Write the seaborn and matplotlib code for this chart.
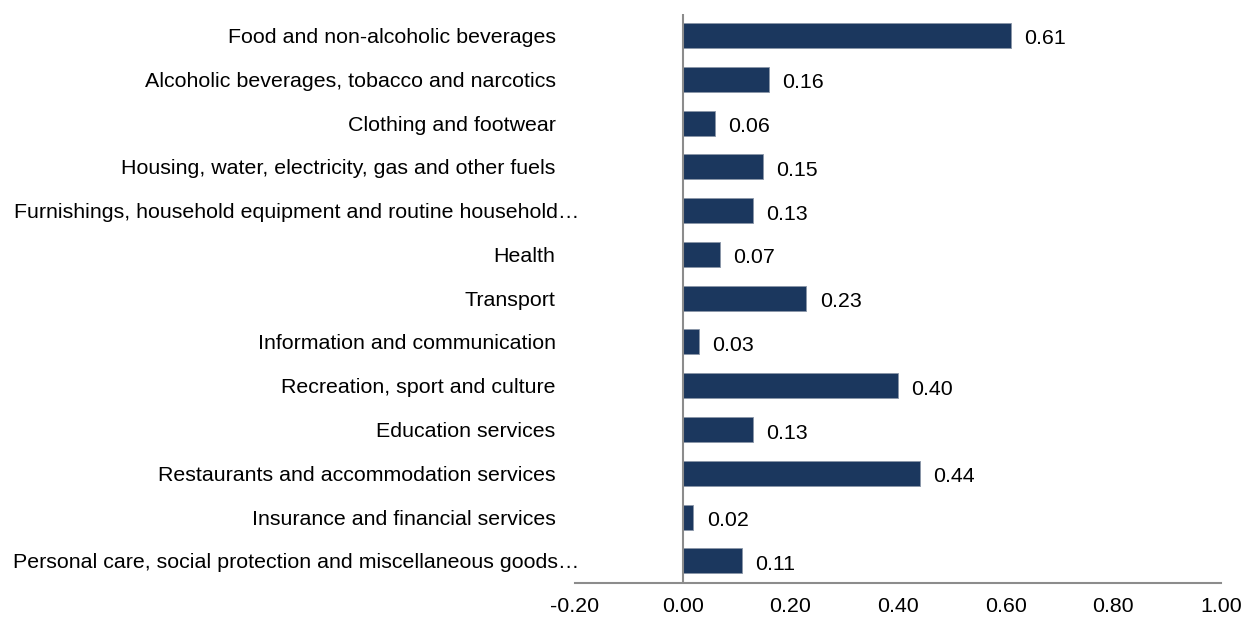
import pandas as pd
import numpy as np
import matplotlib
matplotlib.use("Agg")
import matplotlib.pyplot as plt
import matplotlib.transforms as mtransforms
import seaborn as sns

categories = [
    "Food and non-alcoholic beverages",
    "Alcoholic beverages, tobacco and narcotics",
    "Clothing and footwear",
    "Housing, water, electricity, gas and other fuels",
    "Furnishings, household equipment and routine household\u2026",
    "Health",
    "Transport",
    "Information and communication",
    "Recreation, sport and culture",
    "Education services",
    "Restaurants and accommodation services",
    "Insurance and financial services",
    "Personal care, social protection and miscellaneous goods\u2026",
]
values = [0.61, 0.16, 0.06, 0.15, 0.13, 0.07, 0.23, 0.03, 0.40, 0.13, 0.44, 0.02, 0.11]
x_ticks = [-0.2, 0.0, 0.2, 0.4, 0.6, 0.8, 1.0]

df = pd.DataFrame({"category": categories, "value": values})

sns.set_style("white")
plt.rcParams["font.family"] = ["Liberation Sans", "DejaVu Sans"]
fs = 15.4

fig = plt.figure(figsize=(12.43, 6.18), dpi=100)
ax = fig.add_axes([0.4626, 0.057, 0.5197, 0.921])

sns.barplot(data=df, x="value", y="category", orient="h", color="#1B375E",
            saturation=1, width=0.57, edgecolor="#8a96a8", linewidth=0.6, ax=ax)

for i, v in enumerate(values):
    ax.annotate(f"{v:.2f}", xy=(v, i + 0.08), xytext=(9.5, 0),
                textcoords="offset points", va="center", ha="left",
                fontsize=fs, color="black")

ax.set_xlim(-0.2, 1.0)
ax.set_ylim(len(categories) - 0.5, -0.5)
ax.set_xticks(x_ticks)
ax.set_xticklabels([f"{t:.2f}" for t in x_ticks])
ax.axvline(0, color="#8c8c8c", linewidth=1.5)
ax.set_xlabel("")
ax.set_ylabel("")

for s in ["top", "right", "left"]:
    ax.spines[s].set_visible(False)
ax.spines["bottom"].set_color("#8c8c8c")
ax.spines["bottom"].set_linewidth(1.5)
ax.tick_params(axis="both", length=0, labelsize=fs, colors="black")
ax.tick_params(axis="y", pad=14)
ax.tick_params(axis="x", pad=10.5)

# truncated labels sit a little further right, as in the source chart
shift = mtransforms.ScaledTranslation(24 / 100, 0, fig.dpi_scale_trans)
for lbl in ax.get_yticklabels():
    if lbl.get_text().endswith("\u2026"):
        lbl.set_transform(lbl.get_transform() + shift)

fig.savefig("out.png", dpi=100)
